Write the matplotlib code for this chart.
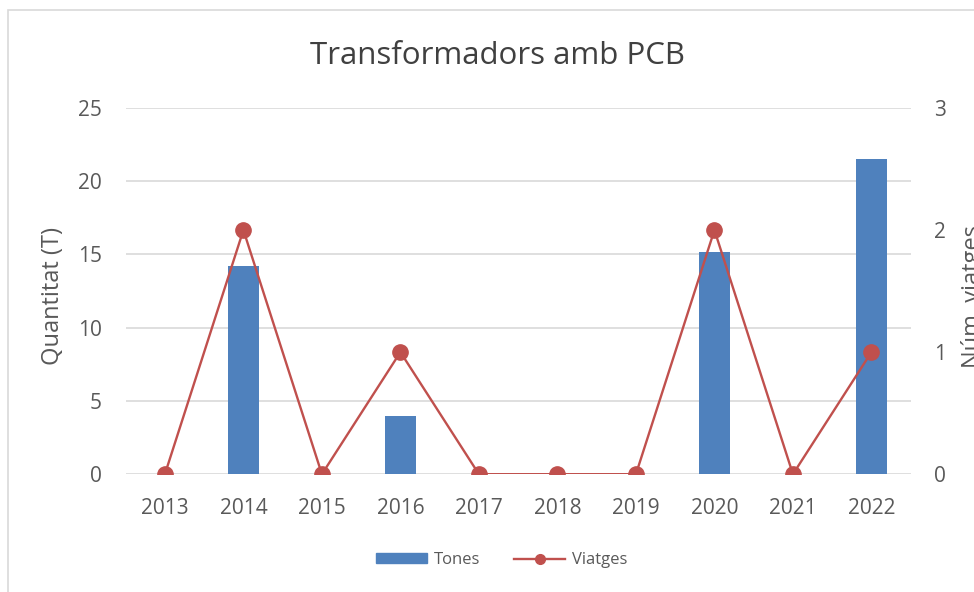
import matplotlib.pyplot as plt
from matplotlib.patches import Rectangle, Patch
from matplotlib.lines import Line2D

years = ["2013", "2014", "2015", "2016", "2017", "2018", "2019", "2020", "2021", "2022"]
tones = [0, 14.2, 0, 4.0, 0, 0, 0, 15.2, 0, 21.5]
viatges = [0, 2, 0, 1, 0, 0, 0, 2, 0, 1]

BLUE = "#4F81BD"
RED = "#C0504D"
GRID = "#D9D9D9"
TXT = "#595959"

plt.rcParams['font.family'] = ['Open Sans', 'DejaVu Sans']

fig = plt.figure(figsize=(9.74, 5.92), dpi=100)
ax = fig.add_axes([0.129, 0.199, 0.806, 0.6186])
ax2 = ax.twinx()

x = list(range(len(years)))
ax.bar(x, tones, width=0.4, color=BLUE, zorder=2)
ax2.plot(x, viatges, color=RED, lw=1.7, marker='o', ms=11, zorder=3)

ax.set_xlim(-0.5, len(years) - 0.5)
ax.set_ylim(0, 25)
ax.set_yticks(range(0, 26, 5))
ax2.set_ylim(0, 3)
ax2.set_yticks([0, 1, 2, 3])
ax.set_xticks(x)
ax.set_xticklabels(years)

ax.grid(axis='y', color=GRID, lw=1.2, zorder=0)
ax.set_axisbelow(True)
for a in (ax, ax2):
    for s in a.spines.values():
        s.set_visible(False)
    a.tick_params(length=0, labelsize=15, colors=TXT)
ax.tick_params(axis='y', pad=17)
ax.tick_params(axis='x', pad=17)
ax2.tick_params(axis='y', pad=17)

fig.text(53 / 974, 0.5, "Quantitat (T)", rotation=90, ha='center', va='center',
         fontsize=17, color=TXT)
# right label is cut off by the chart edge, as in the original
fig.text(961 / 974, 0.5, "Núm. viatges", rotation=90, ha='left', va='center',
         fontsize=17, color=TXT)
fig.text(0.511, 1 - 56 / 592, "Transformadors amb PCB", ha='center', va='center',
         fontsize=22.5, color="#404040")

handles = [Patch(color=BLUE),
           Line2D([], [], color=RED, lw=1.7, marker='o', ms=7)]
fig.legend(handles, ["Tones", "Viatges"], loc='center',
           bbox_to_anchor=(0.515, 1 - 560 / 592),
           ncol=2, frameon=False, fontsize=12, labelcolor=TXT,
           handlelength=3.1, handleheight=0.5, columnspacing=2,
           handletextpad=0.4)

fig.add_artist(Rectangle((8 / 974, -0.05), 1.1, 1 - 10 / 592 + 0.05,
                         transform=fig.transFigure, fill=False,
                         edgecolor=GRID, lw=1.2))

fig.savefig("out.png", dpi=100)
